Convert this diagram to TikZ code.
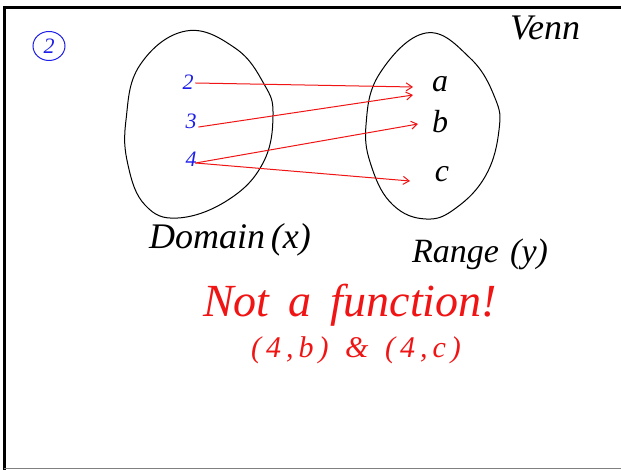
\documentclass[tikz,border=0pt]{standalone}
\usepackage{fontspec}
\setmainfont{Liberation Serif}
\usetikzlibrary{arrows.meta,shapes.geometric}
\definecolor{inkblue}{RGB}{30,30,235}
\definecolor{inkred}{RGB}{240,20,20}
\tikzset{
  ink/.style={line width=1pt, line cap=round, line join=round},
  hand/.style={font=\itshape, inner sep=0pt},
  domlabel/.style={hand, text=inkblue, font=\itshape\fontsize{22}{22}\selectfont},
  rnglabel/.style={hand, text=black, font=\itshape\fontsize{32}{32}\selectfont},
  maparrow/.style={ink, draw=inkred, -{Straight Barb[length=6pt,width=8pt,line width=1pt]}},
}
\begin{document}
\begin{tikzpicture}[x=1pt,y=-1pt]
\useasboundingbox (0,0) rectangle (621,470);
\fill[white] (0,0) rectangle (621,470);
% frame
\draw[line width=3pt] (4,470) -- (4,8) -- (621,8);
\draw[line width=1.2pt, gray] (4,468.5) -- (621,468.5);
% number badge
\node[draw=inkblue, ellipse, line width=1pt, minimum width=32pt, minimum height=29pt, inner sep=0pt, text=inkblue, font=\itshape\fontsize{22}{22}\selectfont] (badge) at (49,46) {2};
% title
\node[hand, font=\itshape\fontsize{36}{36}\selectfont] (venn) at (545,28) {Venn};
% domain oval
\draw[ink] plot[smooth cycle, tension=0.7] coordinates {(186,31) (235,48) (264,84) (273,115) (263,163) (228,200) (178,218) (145,205) (128,165) (126,120) (140,65)};
% range oval
\draw[ink] plot[smooth cycle, tension=0.7] coordinates {(426,33) (470,58) (495,98) (499,130) (486,175) (456,208) (426,219) (393,205) (372,168) (366,125) (380,73)};
% domain elements
\node[domlabel] (d2) at (188,82) {2};
\node[domlabel] (d3) at (191,121) {3};
\node[domlabel] (d4) at (191,159) {4};
% range elements
\node[rnglabel] (ra) at (440,84) {a};
\node[rnglabel] (rb) at (440,122) {b};
\node[rnglabel] (rc) at (442,174) {c};
% mapping arrows
\draw[maparrow] (d2.east) ++(2,1) coordinate (s2) -- (413,87) coordinate (e2);
\draw[maparrow] (d3.east) ++(2,6) coordinate (s3) -- (413,95) coordinate (e3);
\draw[maparrow] (d4.east) ++(-1,4) coordinate (s4) -- (418,124) coordinate (e4);
\draw[maparrow] (s4) -- (410,181) coordinate (e5);
% set names
\node[hand, font=\itshape\fontsize{36}{36}\selectfont] (dom) at (230,240) {Domain\,(x)};
\node[hand, font=\itshape\fontsize{34}{34}\selectfont] (rng) at (480,254) {Range\,\,(y)};
% conclusion
\node[hand, text=inkred, font=\itshape\fontsize{46}{46}\selectfont] (notf) at (350,305) {Not\, a\, function!};
\node[hand, text=inkred, font=\itshape\fontsize{30}{30}\selectfont] (pairs) at (356,350) {(\,4\,,\,b\,)\;\;\&\;\;(\,4\,,\,c\,)};
\end{tikzpicture}
\end{document}
